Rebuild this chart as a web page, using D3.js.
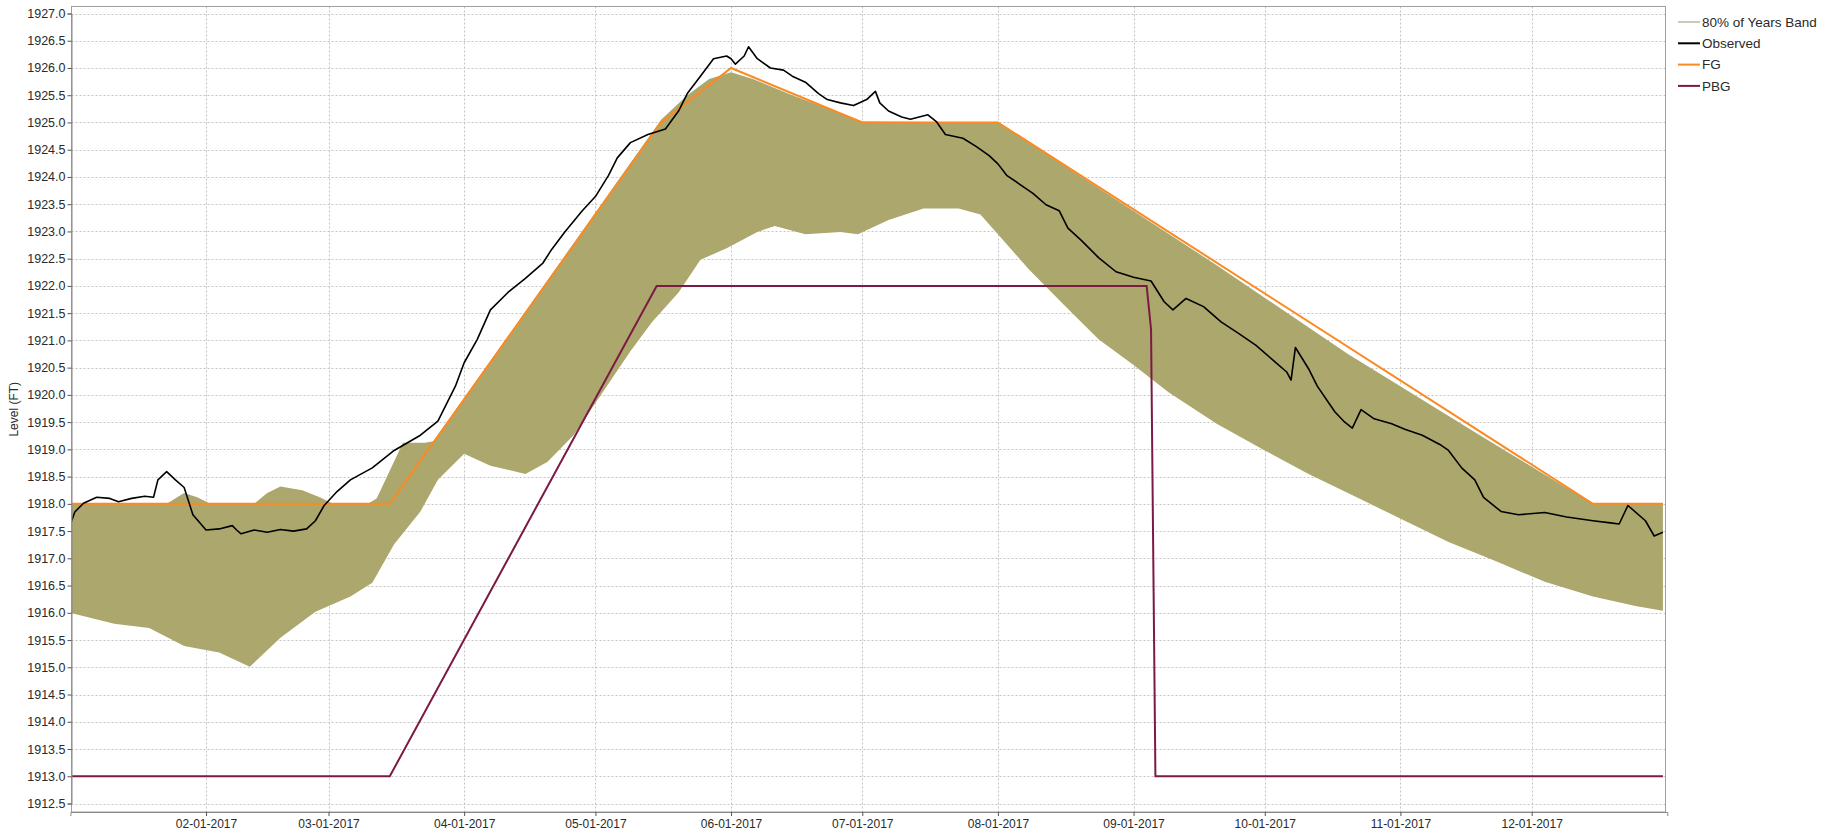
<!DOCTYPE html>
<html>
<head>
<meta charset="utf-8">
<script src="https://cdn.jsdelivr.net/npm/d3@7"></script>
<style>
  html, body { margin: 0; padding: 0; background: #ffffff; }
  svg { display: block; }
  text { font-family: "Liberation Sans", Arial, sans-serif; }
</style>
</head>
<body>
<svg id="chart" width="1835" height="835"></svg>
<script>
// ---------------- DATA ----------------
const yTickValues = [1912.5,1913.0,1913.5,1914.0,1914.5,1915.0,1915.5,1916.0,1916.5,1917.0,1917.5,1918.0,1918.5,1919.0,1919.5,1920.0,1920.5,1921.0,1921.5,1922.0,1922.5,1923.0,1923.5,1924.0,1924.5,1925.0,1925.5,1926.0,1926.5,1927.0];
const xTickDates = ["2017-02-01","2017-03-01","2017-04-01","2017-05-01","2017-06-01","2017-07-01","2017-08-01","2017-09-01","2017-10-01","2017-11-01","2017-12-01"];
const legendLabels = ["80% of Years Band","Observed","FG","PBG"];

const bandUpper = [
  ["2017-01-01",1918.0],["2017-01-23",1918.0],["2017-01-27",1918.2],["2017-01-30",1918.12],
  ["2017-02-02",1918.0],["2017-02-12",1918.0],["2017-02-15",1918.2],["2017-02-18",1918.32],
  ["2017-02-23",1918.25],["2017-02-27",1918.12],["2017-03-02",1918.0],["2017-03-10",1918.0],
  ["2017-03-12",1918.1],["2017-03-18",1919.12],["2017-03-23",1919.12],["2017-03-25",1919.15],
  ["2017-05-16",1925.05],["2017-05-22",1925.5],["2017-05-27",1925.8],["2017-06-01",1925.92],
  ["2017-06-06",1925.8],["2017-06-15",1925.5],["2017-06-25",1925.2],["2017-07-01",1925.02],
  ["2017-08-01",1925.0],["2017-09-20",1922.38],["2017-10-20",1920.75],["2017-11-20",1919.22],
  ["2017-12-15",1918.0],["2017-12-31",1918.0]
];
const bandLower = [
  ["2017-01-01",1916.0],["2017-01-11",1915.8],["2017-01-19",1915.72],["2017-01-27",1915.39],
  ["2017-02-04",1915.27],["2017-02-11",1915.01],["2017-02-18",1915.54],["2017-02-26",1916.02],
  ["2017-03-06",1916.3],["2017-03-11",1916.55],["2017-03-16",1917.26],["2017-03-22",1917.86],
  ["2017-03-26",1918.44],["2017-04-01",1918.92],["2017-04-07",1918.7],["2017-04-15",1918.55],
  ["2017-04-20",1918.77],["2017-04-26",1919.26],["2017-04-30",1919.73],["2017-05-09",1920.8],
  ["2017-05-14",1921.34],["2017-05-20",1921.88],["2017-05-25",1922.48],["2017-05-31",1922.69],
  ["2017-06-07",1922.99],["2017-06-11",1923.1],["2017-06-18",1922.95],["2017-06-26",1922.99],
  ["2017-06-30",1922.95],["2017-07-07",1923.21],["2017-07-15",1923.42],["2017-07-23",1923.42],
  ["2017-07-28",1923.31],["2017-08-01",1922.95],["2017-08-08",1922.31],["2017-08-16",1921.66],
  ["2017-08-24",1921.02],["2017-09-01",1920.55],["2017-09-09",1920.05],["2017-09-20",1919.47],
  ["2017-10-01",1918.98],["2017-10-11",1918.55],["2017-10-22",1918.12],["2017-11-02",1917.69],
  ["2017-11-12",1917.3],["2017-11-23",1916.94],["2017-12-04",1916.57],["2017-12-15",1916.3],
  ["2017-12-25",1916.12],["2017-12-31",1916.04]
];
const observed = [
  ["2017-01-01",1917.62],["2017-01-02",1917.85],["2017-01-04",1918.01],["2017-01-07",1918.12],["2017-01-10",1918.1],
  ["2017-01-12",1918.04],["2017-01-15",1918.1],["2017-01-18",1918.14],["2017-01-20",1918.12],["2017-01-21",1918.44],
  ["2017-01-23",1918.59],["2017-01-25",1918.44],["2017-01-27",1918.3],["2017-01-29",1917.8],
  ["2017-02-01",1917.52],["2017-02-04",1917.54],["2017-02-07",1917.6],["2017-02-08",1917.52],["2017-02-09",1917.45],
  ["2017-02-12",1917.52],["2017-02-15",1917.48],["2017-02-18",1917.53],["2017-02-21",1917.5],["2017-02-24",1917.54],["2017-02-26",1917.69],
  ["2017-02-28",1917.97],["2017-03-03",1918.23],["2017-03-06",1918.44],["2017-03-11",1918.66],
  ["2017-03-16",1918.98],["2017-03-22",1919.26],["2017-03-26",1919.52],["2017-03-30",1920.16],
  ["2017-04-01",1920.59],["2017-04-04",1921.02],["2017-04-07",1921.56],["2017-04-11",1921.88],
  ["2017-04-15",1922.14],["2017-04-19",1922.42],["2017-04-21",1922.67],["2017-04-24",1922.99],
  ["2017-04-28",1923.38],["2017-05-01",1923.64],["2017-05-04",1924.03],["2017-05-06",1924.35],
  ["2017-05-09",1924.63],["2017-05-13",1924.78],["2017-05-17",1924.88],["2017-05-20",1925.21],
  ["2017-05-22",1925.53],["2017-05-25",1925.85],["2017-05-28",1926.17],["2017-05-31",1926.22],
  ["2017-06-01",1926.17],["2017-06-02",1926.07],["2017-06-04",1926.22],["2017-06-05",1926.39],
  ["2017-06-07",1926.17],["2017-06-10",1926.0],["2017-06-13",1925.96],["2017-06-15",1925.85],
  ["2017-06-18",1925.74],["2017-06-21",1925.53],["2017-06-23",1925.42],["2017-06-26",1925.36],
  ["2017-06-29",1925.31],["2017-07-02",1925.42],["2017-07-04",1925.57],["2017-07-05",1925.36],
  ["2017-07-07",1925.21],["2017-07-10",1925.1],["2017-07-12",1925.06],["2017-07-16",1925.14],
  ["2017-07-18",1925.01],["2017-07-20",1924.78],["2017-07-24",1924.71],["2017-07-27",1924.56],
  ["2017-07-30",1924.39],["2017-08-01",1924.24],["2017-08-03",1924.03],["2017-08-07",1923.81],
  ["2017-08-09",1923.7],["2017-08-12",1923.49],["2017-08-15",1923.38],["2017-08-17",1923.06],
  ["2017-08-20",1922.84],["2017-08-24",1922.52],["2017-08-28",1922.26],["2017-09-01",1922.16],
  ["2017-09-05",1922.09],["2017-09-08",1921.71],["2017-09-10",1921.56],["2017-09-13",1921.77],
  ["2017-09-17",1921.62],["2017-09-21",1921.34],["2017-09-25",1921.13],["2017-09-29",1920.91],
  ["2017-10-03",1920.63],["2017-10-06",1920.42],["2017-10-07",1920.27],["2017-10-08",1920.87],
  ["2017-10-11",1920.48],["2017-10-13",1920.16],["2017-10-17",1919.69],["2017-10-19",1919.52],
  ["2017-10-21",1919.39],["2017-10-23",1919.73],["2017-10-26",1919.56],["2017-10-30",1919.47],
  ["2017-11-02",1919.37],["2017-11-06",1919.26],["2017-11-10",1919.09],["2017-11-12",1918.98],
  ["2017-11-15",1918.66],["2017-11-18",1918.44],["2017-11-20",1918.12],["2017-11-24",1917.86],
  ["2017-11-28",1917.8],["2017-12-04",1917.84],["2017-12-09",1917.76],["2017-12-15",1917.69],
  ["2017-12-19",1917.65],["2017-12-21",1917.63],["2017-12-23",1917.97],["2017-12-27",1917.69],
  ["2017-12-29",1917.41],["2017-12-31",1917.48]
];
const fg = [
  ["2017-01-01",1918.0],["2017-03-15",1918.0],["2017-05-16",1925.0],["2017-06-01",1926.0],
  ["2017-07-01",1925.0],["2017-08-01",1925.0],["2017-12-15",1918.0],["2017-12-31",1918.0]
];
const pbg = [
  ["2017-01-01",1913.0],["2017-03-15",1913.0],["2017-05-15",1922.0],["2017-09-04",1922.0],
  ["2017-09-05",1921.2],["2017-09-06",1913.0],["2017-12-31",1913.0]
];

// ---------------- LAYOUT ----------------
const parse = d3.utcParse("%Y-%m-%d");
const plot = {left: 71.5, right: 1665.5, top: 6.5, bottom: 812};
const colors = {band: "#aca76d", bandLegend: "#c9c9b5", observed: "#000000", fg: "#fb8a22", pbg: "#7b1a45"};

const x = d3.scaleUtc()
  .domain([parse("2017-01-01"), parse("2018-01-01")])
  .range([70.4, 1667.3]);
const y = d3.scaleLinear()
  .domain([1912.5, 1927.0])
  .range([803.5, 13.5]);

const svg = d3.select("#chart");

svg.append("defs").append("clipPath").attr("id", "clip")
  .append("rect")
  .attr("x", plot.left).attr("y", plot.top)
  .attr("width", plot.right - plot.left).attr("height", plot.bottom - plot.top);

// grid
const grid = svg.append("g");
grid.selectAll("line.h").data(yTickValues).join("line")
  .attr("x1", plot.left).attr("x2", plot.right)
  .attr("y1", d => Math.round(y(d)) + 0.5).attr("y2", d => Math.round(y(d)) + 0.5)
  .attr("stroke", "#c4c4c4").attr("stroke-width", 1).attr("stroke-dasharray", "2,2");
grid.selectAll("line.v").data(xTickDates.map(parse)).join("line")
  .attr("y1", plot.top).attr("y2", plot.bottom)
  .attr("x1", d => Math.round(x(d)) + 0.5).attr("x2", d => Math.round(x(d)) + 0.5)
  .attr("stroke", "#c4c4c4").attr("stroke-width", 1).attr("stroke-dasharray", "2,2");

const g = svg.append("g").attr("clip-path", "url(#clip)");

// band polygon: upper forward, lower backward
const bandPts = bandUpper.map(d => [parse(d[0]), d[1]])
  .concat(bandLower.map(d => [parse(d[0]), d[1]]).reverse());
const poly = d3.line().x(d => x(d[0])).y(d => y(d[1]));
g.append("path").attr("d", poly(bandPts) + "Z")
  .attr("fill", colors.band).attr("stroke", "none");

const line = d3.line().x(d => x(parse(d[0]))).y(d => y(d[1]));
g.append("path").attr("d", line(pbg)).attr("fill", "none")
  .attr("stroke", colors.pbg).attr("stroke-width", 2);
g.append("path").attr("d", line(fg)).attr("fill", "none")
  .attr("stroke", colors.fg).attr("stroke-width", 2);
g.append("path").attr("d", line(observed)).attr("fill", "none")
  .attr("stroke", colors.observed).attr("stroke-width", 1.6).attr("stroke-linejoin", "round");

// frame
svg.append("rect")
  .attr("x", plot.left).attr("y", plot.top)
  .attr("width", plot.right - plot.left).attr("height", plot.bottom - plot.top)
  .attr("fill", "none").attr("stroke", "#a0a0a0").attr("stroke-width", 1);

// axes
const yAxis = d3.axisLeft(y).tickValues(yTickValues).tickFormat(d3.format(".1f")).tickSize(4).tickPadding(2);
const yg = svg.append("g").attr("transform", `translate(${plot.left},0)`).call(yAxis);
yg.select(".domain").attr("stroke", "#888");
yg.selectAll(".tick line").attr("stroke", "#555");
yg.selectAll("text").attr("fill", "#2a2a2a").style("font-size", "12.5px");

const xAxis = d3.axisBottom(x).tickValues(xTickDates.map(parse)).tickFormat(d3.utcFormat("%m-%d-%Y")).tickSize(4).tickPadding(3);
const xg = svg.append("g").attr("transform", `translate(0,${plot.bottom})`).call(xAxis);
xg.select(".domain").attr("stroke", "#888");
xg.selectAll(".tick line").attr("stroke", "#555");
xg.selectAll("text").attr("fill", "#2a2a2a").style("font-size", "12px");

// y title
svg.append("text")
  .attr("transform", `translate(18,${(plot.top + plot.bottom) / 2}) rotate(-90)`)
  .attr("text-anchor", "middle")
  .attr("fill", "#2a2a2a").style("font-size", "12px")
  .text("Level (FT)");

// legend
const legColors = [colors.bandLegend, colors.observed, colors.fg, colors.pbg];
const leg = svg.append("g").attr("transform", "translate(1678,22)");
legendLabels.forEach((lab, i) => {
  const row = leg.append("g").attr("transform", `translate(0,${i * 21.3})`);
  row.append("line").attr("x1", 0).attr("x2", 22).attr("y1", 0).attr("y2", 0)
    .attr("stroke", legColors[i]).attr("stroke-width", 2);
  row.append("text").attr("x", 24).attr("y", 0).attr("dy", "0.35em")
    .attr("fill", "#2a2a2a").style("font-size", "13.5px").text(lab);
});
</script>
</body>
</html>
